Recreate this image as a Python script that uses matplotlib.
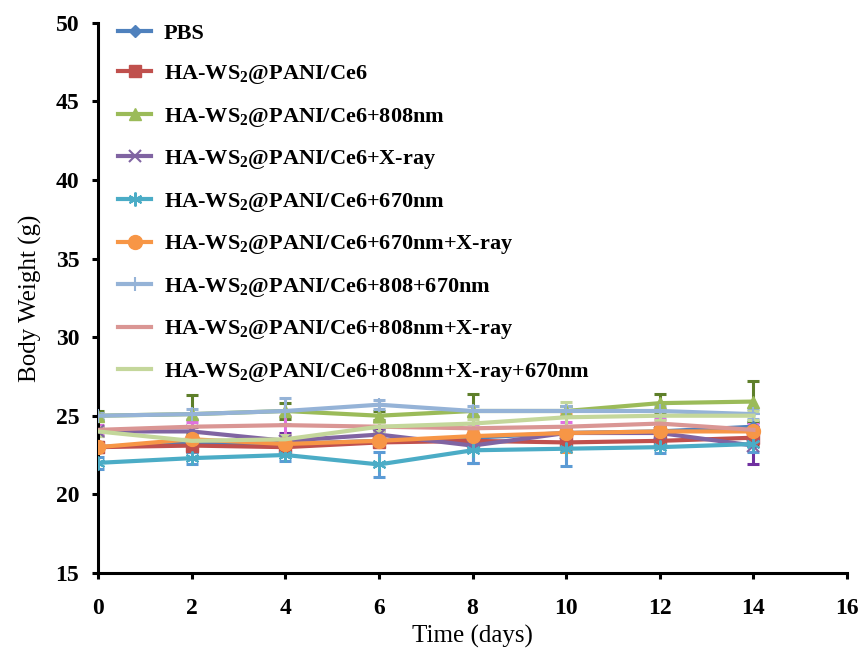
import matplotlib.pyplot as plt
import numpy as np

plt.rcParams['font.family'] = ['Liberation Serif', 'DejaVu Serif']
plt.rcParams['mathtext.fontset'] = 'custom'
plt.rcParams['mathtext.rm'] = 'Liberation Serif:bold'
plt.rcParams['mathtext.default'] = 'rm'

days = [0, 2, 4, 6, 8, 10, 12, 14]

labels = [
    "PBS",
    "HA-WS$_2$@PANI/Ce6",
    "HA-WS$_2$@PANI/Ce6+808nm",
    "HA-WS$_2$@PANI/Ce6+X-ray",
    "HA-WS$_2$@PANI/Ce6+670nm",
    "HA-WS$_2$@PANI/Ce6+670nm+X-ray",
    "HA-WS$_2$@PANI/Ce6+808+670nm",
    "HA-WS$_2$@PANI/Ce6+808nm+X-ray",
    "HA-WS$_2$@PANI/Ce6+808nm+X-ray+670nm",
]

pbs = [23.0, 23.3, 23.2, 23.4, 23.6, 23.9, 24.0, 24.3]
ce6 = [23.0, 23.1, 23.0, 23.3, 23.4, 23.3, 23.4, 23.6]
ce6_808 = [25.0, 25.1, 25.3, 25.0, 25.3, 25.3, 25.8, 25.9]
ce6_xray = [24.0, 24.0, 23.4, 23.8, 23.1, 23.9, 23.9, 23.1]
ce6_670 = [22.0, 22.3, 22.5, 21.9, 22.8, 22.9, 23.0, 23.2]
ce6_670_xray = [23.0, 23.5, 23.2, 23.4, 23.7, 23.9, 24.0, 24.0]
ce6_808_670 = [25.0, 25.1, 25.3, 25.7, 25.3, 25.3, 25.3, 25.1]
ce6_808_xray = [24.1, 24.3, 24.4, 24.3, 24.2, 24.3, 24.5, 24.1]
ce6_808_xray_670 = [24.0, 23.4, 23.5, 24.3, 24.5, 24.9, 25.0, 25.0]

err_pbs = [0.3, 0.3, 0.3, 0.3, 0.3, 0.3, 0.3, 0.3]
err_ce6 = [0.3, 0.4, 0.3, 0.3, 0.4, 0.4, 0.4, 0.5]
err_808 = [0.3, 1.2, 0.5, 0.3, 1.1, 0.3, 0.6, 1.3]
err_xray = [0.3, 0.3, 0.5, 0.3, 1.1, 0.4, 0.4, 1.2]
err_670 = [0.4, 0.4, 0.4, 0.8, 0.8, 1.1, 0.4, 0.5]
err_670_xray = [0.3, 0.3, 0.3, 0.3, 0.3, 1.2, 0.3, 0.3]
err_808_670 = [0.2, 0.3, 0.8, 0.3, 0.3, 0.3, 0.3, 0.3]
err_808_xray = [0.3, 0.3, 0.6, 0.3, 0.3, 0.3, 0.3, 0.4]
err_808_xray_670 = [0.3, 0.3, 0.3, 0.3, 0.3, 1.0, 0.3, 0.3]

series = [pbs, ce6, ce6_808, ce6_xray, ce6_670, ce6_670_xray,
          ce6_808_670, ce6_808_xray, ce6_808_xray_670]
errors = [err_pbs, err_ce6, err_808, err_xray, err_670, err_670_xray,
          err_808_670, err_808_xray, err_808_xray_670]

colors = ['#4F81BD', '#C0504D', '#9BBB59', '#8064A2', '#4BACC6',
          '#F79646', '#95B3D7', '#DA9694', '#C4D79B']
err_colors = ['#4F81BD', '#A0302D', '#5E7F2A', '#7030A0', '#5B9BD5',
              '#F79646', '#95B3D7', '#E070E0', '#C4D79B']
markers = ['D', 's', '^', 'x', (6, 2, 0), 'o', '+', None, None]
msizes = [6, 9, 9, 9, 10, 10, 10, 0, 0]

fig = plt.figure(figsize=(8.63, 6.51), dpi=100)
ax = fig.add_axes([0.1136, 0.12, 0.868, 0.845])

for y, e, c, ec, m, ms, lab in zip(series, errors, colors, err_colors, markers, msizes, labels):
    ax.errorbar(days, y, yerr=e, fmt='none', ecolor=ec, elinewidth=2.2,
                capsize=4, capthick=2.2, zorder=2)
    ax.plot(days, y, color=c, lw=3, marker=m, markersize=ms,
            markeredgewidth=1.5 if m in ('x', '+') or isinstance(m, tuple) else 1,
            markeredgecolor=c, label=lab, zorder=3)

ax.set_xlim(0, 16)
ax.set_ylim(15, 50)
ax.set_xticks(np.arange(0, 17, 2))
ax.set_yticks(np.arange(15, 51, 5))

for side in ('top', 'right'):
    ax.spines[side].set_visible(False)
for side in ('left', 'bottom'):
    ax.spines[side].set_linewidth(2.2)

ax.tick_params(axis='both', direction='out', length=4, width=2.2, labelsize=17)
ax.tick_params(axis='x', pad=14)
ax.tick_params(axis='y', pad=9.5)
for t in ax.get_xticklabels() + ax.get_yticklabels():
    t.set_fontweight('bold')

ax.set_xlabel("Time (days)", fontsize=18, labelpad=4)
ax.set_ylabel("Body Weight (g)", fontsize=18, labelpad=10)

leg = ax.legend(loc='upper left', bbox_to_anchor=(0.0, 1.036), frameon=False,
                prop={'weight': 'bold', 'size': 16}, labelspacing=0.88,
                handlelength=1.5, handletextpad=0.55)

plt.savefig("out.png", dpi=100)
